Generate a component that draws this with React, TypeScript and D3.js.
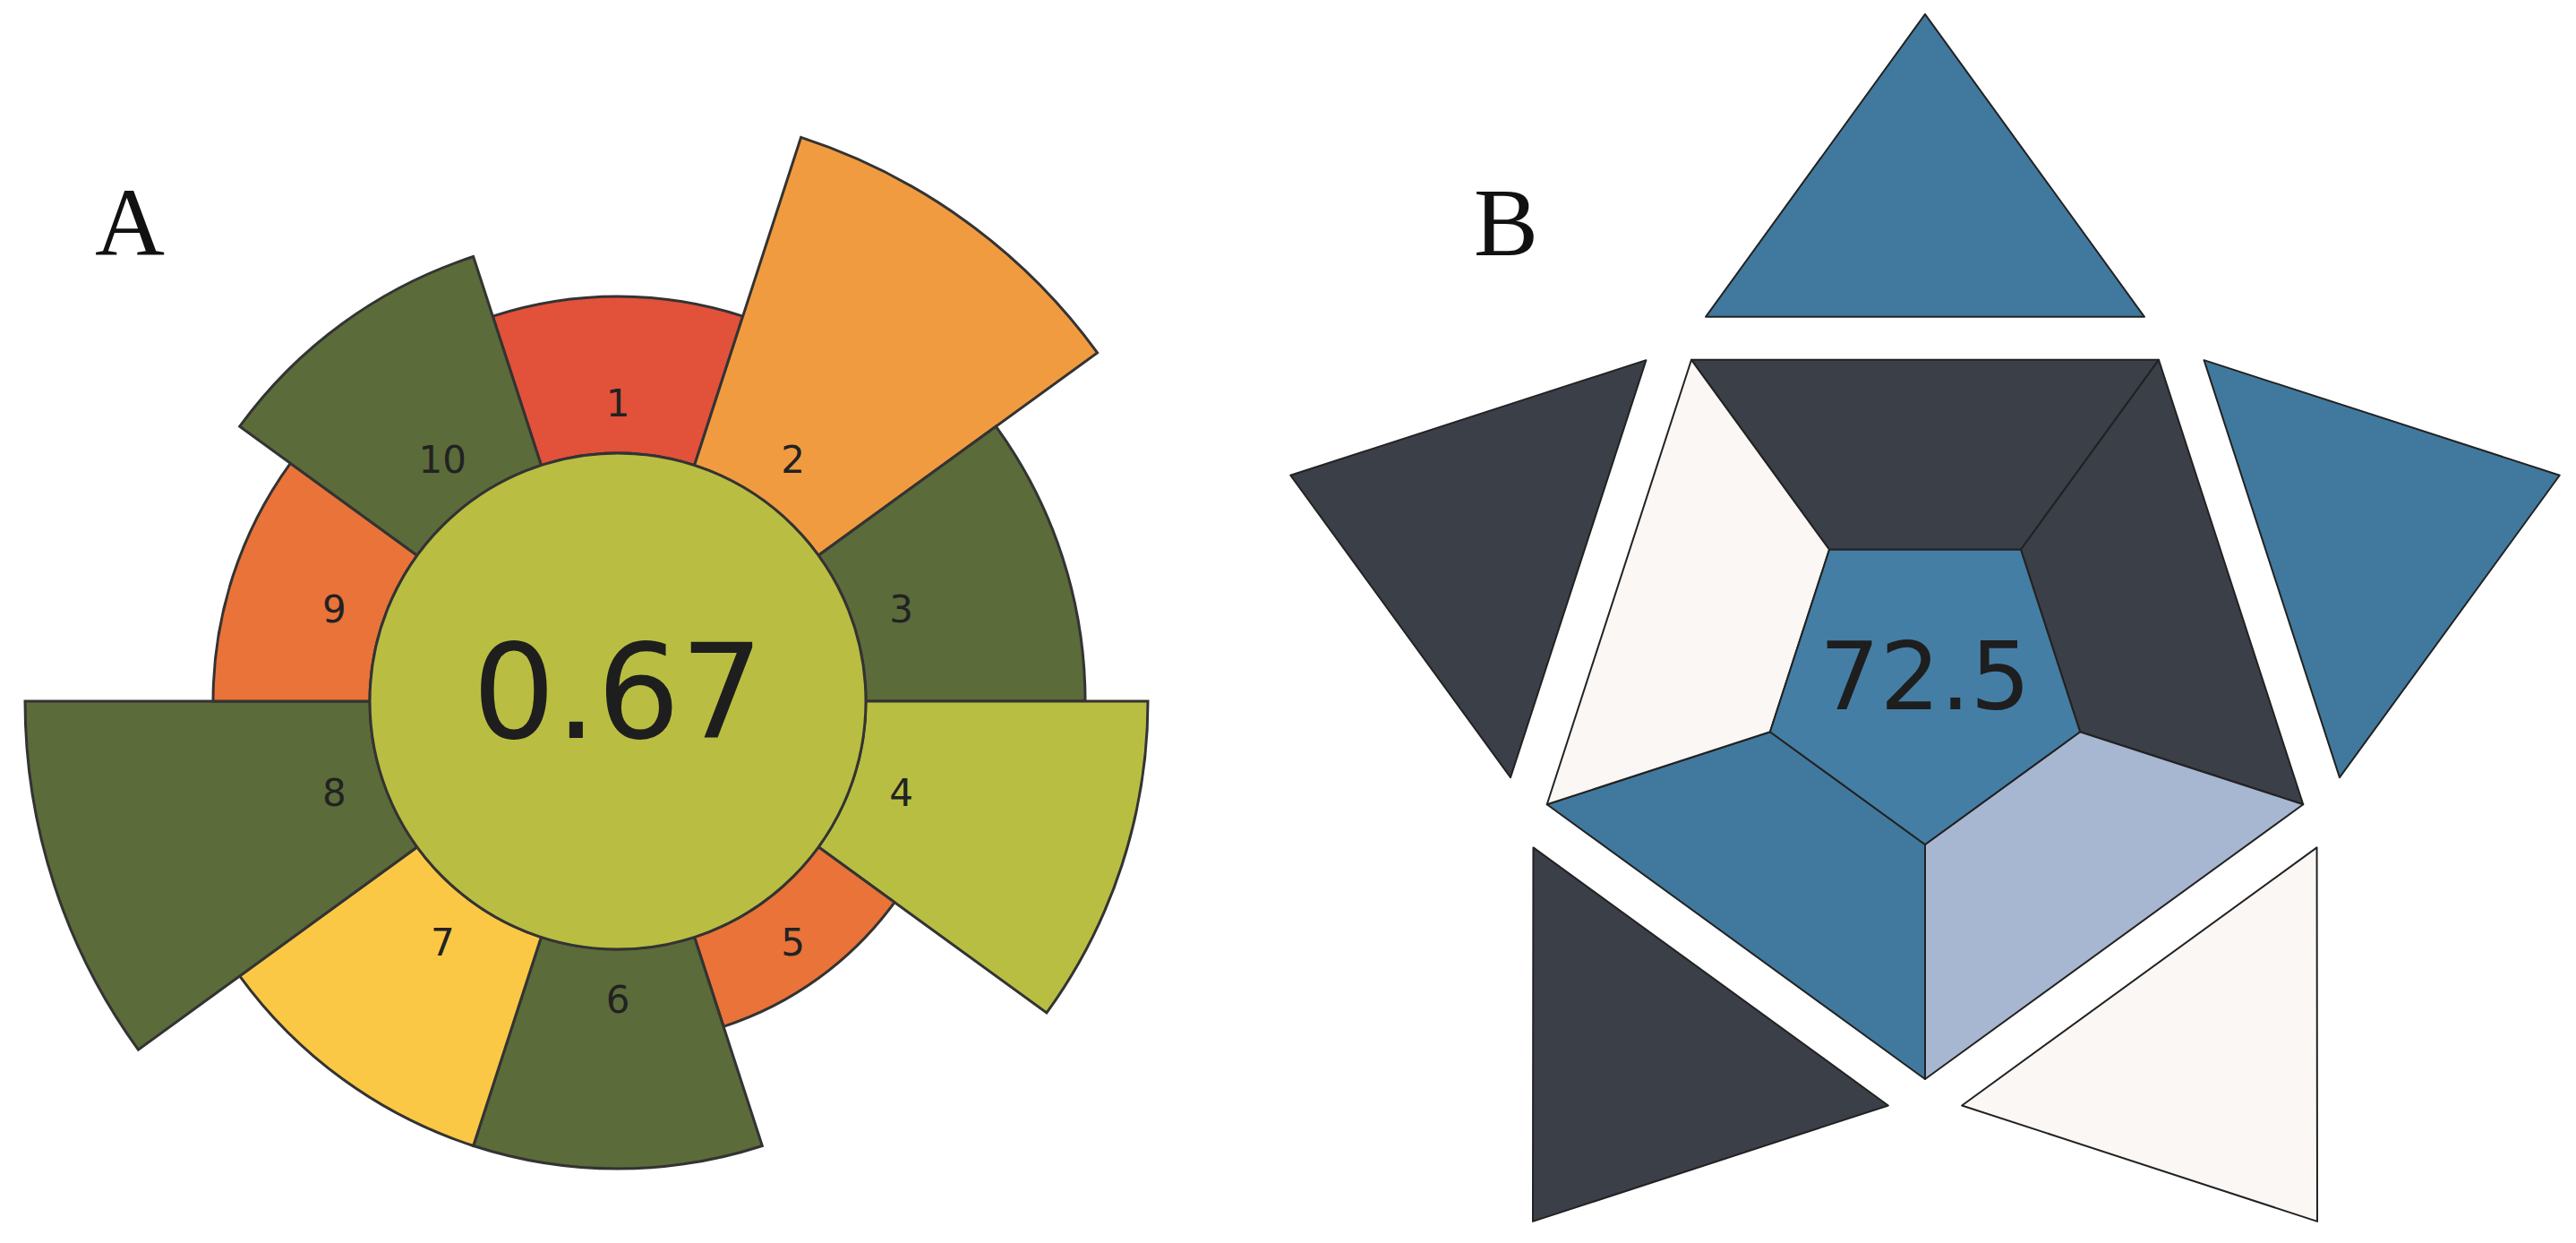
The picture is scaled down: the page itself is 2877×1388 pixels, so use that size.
import * as d3 from "d3";

// panel A: criteria, weights (petal length) and scores (petal colour)
const criteria = ["1", "2", "3", "4", "5", "6", "7", "8", "9", "10"];
const weights = [2, 5, 3, 4, 1, 3, 3, 5, 2, 3];
const scores = [0.0, 0.4, 1.0, 0.75, 0.25, 1.0, 0.5, 1.0, 0.25, 1.0];
const overallScore = 0.67;

// panel B: five outer triangles and five inner trapezoids, clockwise from top
const triangleLevels = [2, 2, 0, 3, 3];
const trapezoidLevels = [3, 3, 1, 2, 0];
const centreLevel = 2;
const totalScore = "72.5";

const W = 2877;
const H = 1388;

export default function App() {
  // ---------- A ----------
  const cxA = 690;
  const cyA = 783;
  const innerR = 277;
  const rScale = d3.scaleLinear().domain([0, 5]).range([312, 662]);
  const angle = d3
    .scaleBand<string>()
    .domain(criteria)
    .range([-Math.PI / 10, 2 * Math.PI - Math.PI / 10]);
  const scoreColor = d3
    .scaleThreshold<number, string>()
    .domain([0.2, 0.3, 0.45, 0.6, 0.85])
    .range(["#e2513a", "#e97339", "#f19b40", "#fbc845", "#b8be42", "#5b6b3a"]);
  const arc = d3.arc<any>();

  const petals = criteria.map((c, i) => {
    const a0 = angle(c)!;
    const a1 = a0 + angle.bandwidth();
    const d = arc({
      innerRadius: innerR,
      outerRadius: rScale(weights[i]),
      startAngle: a0,
      endAngle: a1,
    });
    const [lx, ly] = d3.pointRadial((a0 + a1) / 2, 333);
    return (
      <g key={c}>
        <path d={d!} fill={scoreColor(scores[i])} stroke="#333" strokeWidth={3} />
        <text
          x={lx}
          y={ly}
          textAnchor="middle"
          dominantBaseline="central"
          fontFamily="DejaVu Sans"
          fontSize={42}
          fill="#222"
        >
          {c}
        </text>
      </g>
    );
  });

  // ---------- B ----------
  const cxB = 2150;
  const cyB = 761;
  const R = 444;
  const Rin = 182;
  const gap = 48;
  const halfBase = 245;
  const triH = 338;
  const levelColor = d3
    .scaleOrdinal<number, string>()
    .domain([0, 1, 2, 3])
    .range(["#faf7f4", "#a7b6d1", "#41799e", "#3b3f48"]);
  const side = d3.scaleLinear().domain([0, 5]).range([0, 2 * Math.PI]);
  const line = d3.line();
  const step = Math.PI / 5;

  const pieces: JSX.Element[] = [];
  for (let k = 0; k < 5; k++) {
    const n = side(k);
    const o0 = d3.pointRadial(n - step, R);
    const o1 = d3.pointRadial(n + step, R);
    const i0 = d3.pointRadial(n - step, Rin);
    const i1 = d3.pointRadial(n + step, Rin);
    pieces.push(
      <path
        key={"t" + k}
        d={line([o0, o1, i1, i0])! + "Z"}
        fill={levelColor(trapezoidLevels[k])}
        stroke="#222"
        strokeWidth={2}
        strokeLinejoin="round"
      />
    );
    const dBase = R * Math.cos(step) + gap;
    const cornerA = Math.atan2(halfBase, dBase);
    const cornerR = Math.hypot(halfBase, dBase);
    const b0 = d3.pointRadial(n - cornerA, cornerR);
    const b1 = d3.pointRadial(n + cornerA, cornerR);
    const apex = d3.pointRadial(n, dBase + triH);
    pieces.push(
      <path
        key={"tri" + k}
        d={line([b0, apex, b1])! + "Z"}
        fill={levelColor(triangleLevels[k])}
        stroke="#222"
        strokeWidth={2}
        strokeLinejoin="round"
      />
    );
  }
  const centre = d3.range(5).map((k) => d3.pointRadial(side(k) + step, Rin));

  return (
    <svg
      width={W}
      height={H}
      style={{ position: "absolute", left: 0, top: 0, background: "#fff" }}
    >
      <text x={106} y={285} fontFamily="Liberation Serif" fontSize={108} fill="#111">
        A
      </text>
      <text x={1646} y={285} fontFamily="Liberation Serif" fontSize={108} fill="#111">
        B
      </text>

      <g transform={`translate(${cxA},${cyA})`}>
        {petals}
        <circle r={innerR} fill="#b9be42" stroke="#333" strokeWidth={3} />
        <text
          x={0}
          y={41}
          textAnchor="middle"
          fontFamily="DejaVu Sans"
          fontSize={146}
          fill="#1e1e1e"
        >
          {overallScore.toFixed(2)}
        </text>
      </g>

      <g transform={`translate(${cxB},${cyB})`}>
        {pieces}
        <path
          d={line(centre)! + "Z"}
          fill={d3.color(levelColor(centreLevel))!.brighter(0.12).formatHex()}
          stroke="#222"
          strokeWidth={2}
        />
        <text
          x={0}
          y={31}
          textAnchor="middle"
          fontFamily="DejaVu Sans"
          fontSize={106}
          fill="#1e1e1e"
        >
          {totalScore}
        </text>
      </g>
    </svg>
  );
}
